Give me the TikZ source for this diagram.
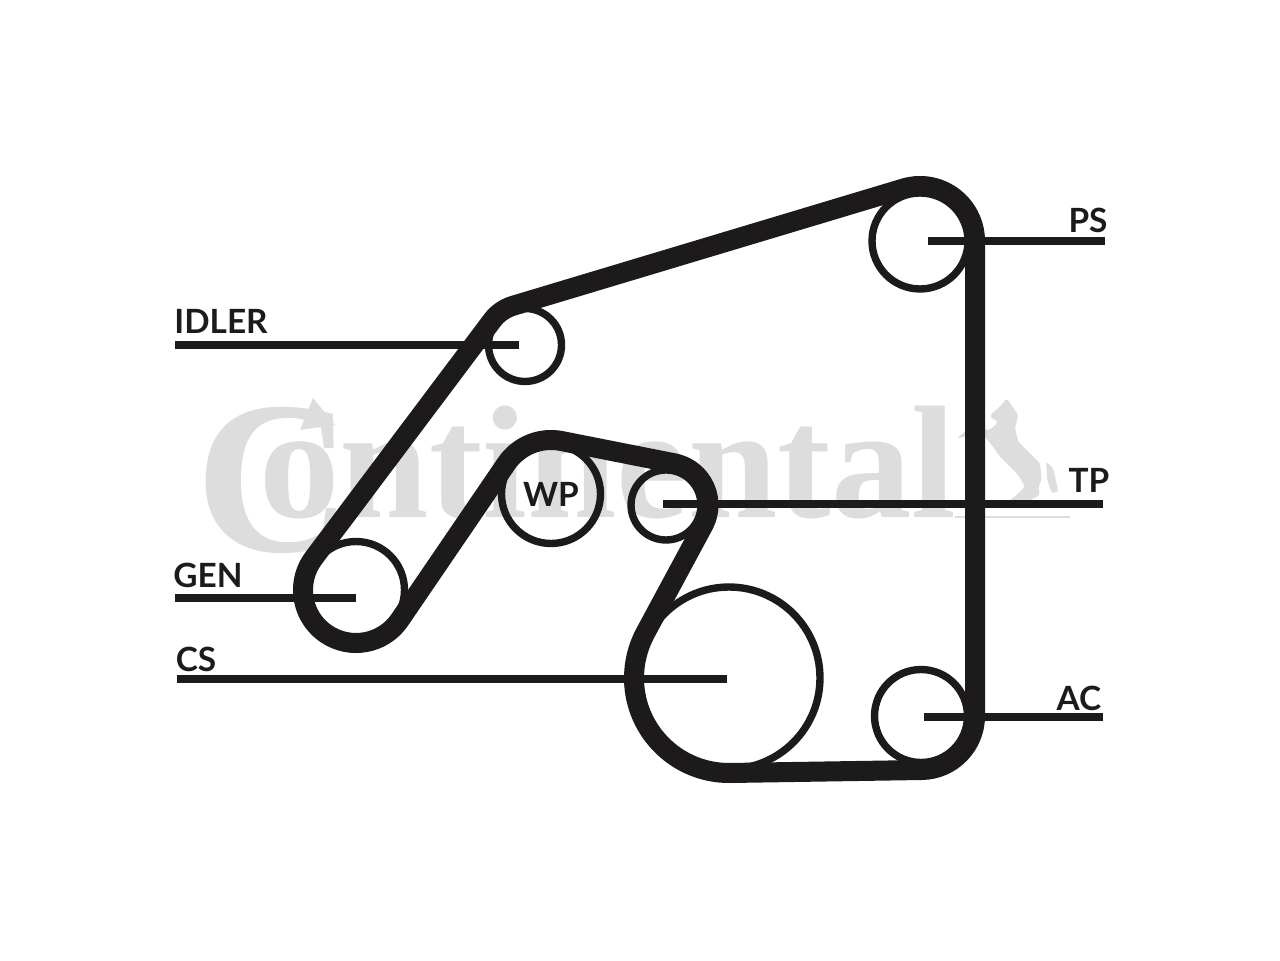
\documentclass[tikz,border=0pt]{standalone}
\usepackage{fontspec}
\setmainfont{Liberation Serif}
\newfontfamily\labelfont{Lato}
\usetikzlibrary{positioning}
\definecolor{ink}{HTML}{1C1A1B}
\definecolor{logo}{HTML}{DDDDDD}

\begin{document}
\begin{tikzpicture}
    [
        x=0.02cm, y=0.02cm,
        pulley/.style={circle, draw=ink, line width=4.2pt, inner sep=0pt},
        belt/.style={draw=ink, line width=11.4pt, line join=round},
        leader/.style={draw=ink, line width=4pt},
        caption/.style={inner sep=0pt, text=ink, font=\labelfont\bfseries\fontsize{19pt}{20pt}\selectfont},
    ]
    \useasboundingbox (0,0) rectangle (1280,960);

    % logo behind the belt
    \node (watermark) at (195,442) [anchor=base west, inner sep=0pt, text=logo]
        {\bfseries\raisebox{-0.68cm}{\fontsize{124pt}{124pt}\selectfont C}\kern-53pt\fontsize{91.5pt}{92pt}\selectfont ontinental};
    \fill[logo] (313,562) -- (335,535) -- (300,530) -- cycle;
    % horse
    \fill[logo, rounded corners=1.5pt] (1006.7,561.7) -- (1018.3,545) -- (1015,531.7) -- (1018.3,518.3) -- (1040,496.7)
        -- (1041.7,481.7) -- (1038.3,471.7) -- (1040,465) -- (1030,460) -- (1020,451.7) -- (1006.7,456.7) -- (1020,468.3)
        -- (1025,473.3) -- (1018.3,485) -- (1000,503.3) -- (991.7,515) -- (983.3,525) -- (973.3,525) -- (956.7,521.7)
        -- (965,528.3) -- (978.3,531.7) -- (990,530) -- (998.3,538.3) -- (991.7,541.7) -- (990,545) -- (1000,553.3) -- cycle;
    \fill[logo, rounded corners=1.5pt] (1046,498.3) -- (1053.3,491.7) -- (1058.3,468.3) -- (1051.7,466.7) -- (1047.3,480) -- cycle;
    \draw[logo, line width=1.2pt] (955,443) -- (1070,443);

    % pulleys
    \node (ps) at (920,719) [pulley, minimum size=1.92cm] {};
    \node (idler) at (525,615) [pulley, minimum size=1.46cm] {};
    \node (wp) at (551,466) [pulley, minimum size=1.98cm, text=ink, font=\labelfont\bfseries\fontsize{19pt}{20pt}\selectfont] {WP};
    \node (tp) at (666,455) [pulley, minimum size=1.40cm] {};
    \node (gen) at (356,370) [pulley, minimum size=1.94cm] {};
    \node (cs) at (729,282) [pulley, minimum size=3.64cm] {};
    \node (ac) at (921,244) [pulley, minimum size=1.86cm] {};

    % belt
    \draw[belt] ([shift={(106.7:55)}]ps.center) arc[start angle=106.7, end angle=0, radius=55]
        -- ([shift={(0:54)}]ac.center) arc[start angle=0, end angle=-89.1, radius=54]
        -- ([shift={(-89.1:95)}]cs.center) arc[start angle=-89.1, end angle=-207.9, radius=95]
        -- ([shift={(-27.9:42.5)}]tp.center) arc[start angle=-27.9, end angle=78.8, radius=42.5]
        -- ([shift={(78.8:54)}]wp.center) arc[start angle=78.8, end angle=145.7, radius=54]
        -- ([shift={(-34.3:53)}]gen.center) arc[start angle=-34.3, end angle=-216.9, radius=53]
        -- ([shift={(143.1:41)}]idler.center) arc[start angle=143.1, end angle=106.7, radius=41]
        -- cycle;

    % leaders
    \coordinate (idler hub) at (519,615);
    \coordinate (idler end) at (175,615);
    \coordinate (gen hub) at (356,362);
    \coordinate (gen end) at (175,362);
    \coordinate (cs hub) at (727,281);
    \coordinate (cs end) at (177,281);
    \coordinate (ps hub) at (928,719);
    \coordinate (ps end) at (1105,719);
    \coordinate (tp hub) at (663,456);
    \coordinate (tp end) at (1103,456);
    \coordinate (ac hub) at (924,243);
    \coordinate (ac end) at (1103,243);
    \draw[leader] (idler end) -- (idler hub);
    \draw[leader] (gen end) -- (gen hub);
    \draw[leader] (cs end) -- (cs hub);
    \draw[leader] (ps hub) -- (ps end);
    \draw[leader] (tp hub) -- (tp end);
    \draw[leader] (ac hub) -- (ac end);

    % labels
    \node (idler label) at (221,639) [caption] {IDLER};
    \node (gen label) at (208,385) [caption] {GEN};
    \node (cs label) at (196,301) [caption] {CS};
    \node (ps label) at (1088,740) [caption] {PS};
    \node (tp label) at (1089,480) [caption] {TP};
    \node (ac label) at (1079,262) [caption] {AC};
\end{tikzpicture}
\end{document}
